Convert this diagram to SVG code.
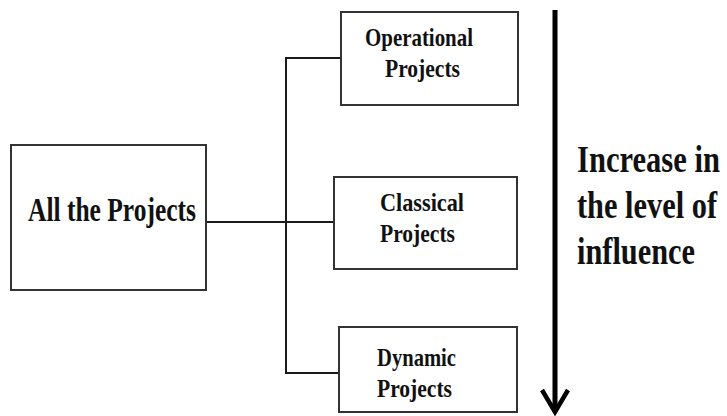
<svg xmlns="http://www.w3.org/2000/svg" width="727" height="416" viewBox="0 0 727 416">
  <style>
    .box { fill: #ffffff; stroke: #333333; stroke-width: 2; }
    .lbl { font-family: 'Liberation Serif', 'DejaVu Serif', 'Times New Roman', serif; font-weight: 700; fill: #111111; }
    .wire { fill: none; stroke: #1a1a1a; stroke-width: 2; }
  </style>
  <rect width="727" height="416" fill="#ffffff"/>

  <!-- tree connectors -->
  <g id="connectors">
    <line class="wire" x1="206" y1="222" x2="286" y2="222"/>
    <polyline class="wire" points="341,58 286,58 286,373 339,373"/>
    <line class="wire" x1="286" y1="222" x2="334" y2="222"/>
  </g>

  <g id="all-projects">
    <rect class="box" x="11" y="145" width="195" height="145"/>
    <text class="lbl" x="28" y="221" font-size="33" textLength="168" lengthAdjust="spacingAndGlyphs">All the Projects</text>
  </g>

  <g id="operational">
    <rect class="box" x="341" y="12" width="177" height="93"/>
    <text class="lbl" x="365" y="46" font-size="25" textLength="108" lengthAdjust="spacingAndGlyphs">Operational</text>
    <text class="lbl" x="385" y="77" font-size="25" textLength="75" lengthAdjust="spacingAndGlyphs">Projects</text>
  </g>

  <g id="classical">
    <rect class="box" x="334" y="177" width="183" height="92"/>
    <text class="lbl" x="380" y="211" font-size="25" textLength="84" lengthAdjust="spacingAndGlyphs">Classical</text>
    <text class="lbl" x="380" y="242" font-size="25" textLength="75" lengthAdjust="spacingAndGlyphs">Projects</text>
  </g>

  <g id="dynamic">
    <rect class="box" x="339" y="327" width="178" height="85"/>
    <text class="lbl" x="377" y="366" font-size="25" textLength="79" lengthAdjust="spacingAndGlyphs">Dynamic</text>
    <text class="lbl" x="377" y="397" font-size="25" textLength="75" lengthAdjust="spacingAndGlyphs">Projects</text>
  </g>

  <!-- influence arrow -->
  <g id="influence">
    <line x1="555" y1="10" x2="555" y2="412" stroke="#000000" stroke-width="5"/>
    <polyline points="542,390 555,412 568,390" fill="none" stroke="#000000" stroke-width="4.5" stroke-linejoin="miter"/>
    <text class="lbl" x="577" y="172" font-size="37" textLength="143" lengthAdjust="spacingAndGlyphs">Increase in</text>
    <text class="lbl" x="577" y="218" font-size="37" textLength="140" lengthAdjust="spacingAndGlyphs">the level of</text>
    <text class="lbl" x="577" y="264" font-size="37" textLength="118" lengthAdjust="spacingAndGlyphs">influence</text>
  </g>
</svg>
